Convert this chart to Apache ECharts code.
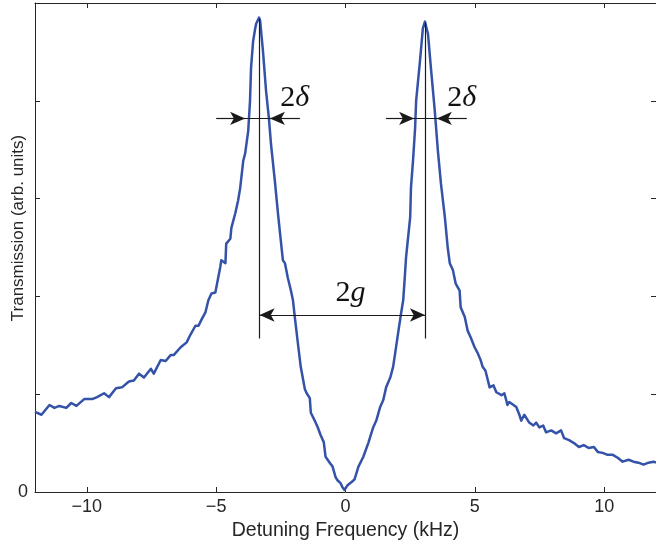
<!DOCTYPE html>
<html>
<head>
<meta charset="utf-8">
<script src="https://cdn.jsdelivr.net/npm/echarts@6/dist/echarts.min.js"></script>
<style>
html,body{margin:0;padding:0;background:#fff;}
#chart{width:656px;height:548px;}
</style>
</head>
<body>
<div id="chart"></div>
<script>
// Detuning frequency (kHz) and transmission (arb. units)
var freqKHz = [
 -12.00,-11.75,-11.44,-11.25,-11.06,-10.79,-10.60,-10.40,-10.10,-9.79,-9.60,-9.33,-9.14,-8.87,-8.64,-8.37,-8.18,-7.98,-7.79,-7.52,-7.41,-7.14,-6.95,-6.76,-6.64,-6.37,-6.14,-5.99,-5.80,
 -5.68,-5.57,-5.41,-5.30,-5.18,-5.03,-4.84,-4.80,-4.64,-4.61,-4.45,-4.41,-4.26,-4.15,-4.07,-3.95,-3.88,-3.76,-3.69,-3.65,-3.57,-3.49,-3.45,-3.34,
 -3.30,-3.19,-3.07,-2.96,-2.88,-2.73,-2.61,-2.50,-2.42,-2.34,-2.23,-2.11,-2.03,-1.96,-1.84,-1.73,-1.57,-1.50,-1.38,-1.34,-1.19,-1.07,-0.96,-0.84,-0.77,-0.61,-0.50,-0.38,-0.31,-0.19,-0.12,-0.04,
 0.00,0.08,0.15,0.27,0.35,0.50,0.69,0.88,1.07,1.19,1.34,1.46,1.57,1.73,1.84,1.92,2.03,2.15,2.23,2.30,2.34,2.50,2.53,2.61,2.69,2.73,2.88,2.99,3.07,
 3.19,3.30,3.45,3.57,3.69,3.84,3.95,4.03,4.15,4.26,4.41,4.45,4.61,4.72,4.84,4.99,5.11,5.22,5.30,5.41,5.57,5.72,5.83,6.03,6.14,6.26,6.33,6.60,6.72,6.79,6.91,
 7.10,7.26,7.37,7.49,7.64,7.75,7.95,8.14,8.33,8.45,8.64,8.83,9.02,9.21,9.40,9.60,9.75,9.94,10.13,10.33,10.52,10.71,10.94,11.13,11.32,11.52,11.71,11.90,12.00
];
var transmission = [
 0.82,0.79,0.89,0.86,0.88,0.86,0.91,0.88,0.95,0.95,0.97,1.01,0.97,1.06,1.07,1.13,1.14,1.21,1.17,1.26,1.21,1.35,1.34,1.40,1.40,1.48,1.53,1.61,1.70,
 1.70,1.76,1.84,1.96,2.03,2.04,2.30,2.37,2.34,2.54,2.59,2.70,2.85,2.98,3.11,3.39,3.46,3.69,4.00,4.34,4.61,4.74,4.79,4.85,
 4.82,4.51,4.10,3.82,3.56,3.18,2.85,2.57,2.37,2.34,2.19,2.06,1.96,1.79,1.52,1.28,1.05,1.01,0.96,0.81,0.73,0.66,0.58,0.51,0.36,0.30,0.26,0.15,0.12,0.09,0.05,0.02,
 0.04,0.07,0.05,0.11,0.13,0.26,0.36,0.50,0.66,0.73,0.87,0.94,1.07,1.17,1.28,1.42,1.62,1.83,1.96,2.23,2.40,2.81,3.11,3.39,3.72,4.00,4.41,4.74,4.81,
 4.68,4.34,3.90,3.49,3.15,2.81,2.50,2.34,2.27,2.13,2.06,1.89,1.79,1.65,1.58,1.48,1.42,1.35,1.28,1.24,1.07,1.09,1.02,0.99,1.01,0.89,0.92,0.87,0.79,0.73,0.79,
 0.71,0.68,0.71,0.66,0.68,0.61,0.63,0.60,0.63,0.55,0.53,0.50,0.46,0.48,0.45,0.46,0.41,0.40,0.38,0.38,0.35,0.31,0.33,0.31,0.30,0.28,0.30,0.31,0.30
];
var xTicks = [-10, -5, 0, 5, 10];
var yTicks = [0, 1, 2, 3, 4, 5];
var yLabels = ['0', '', '', '', '', ''];
// Annotation geometry in data units
var peakCenters = [-3.32, 3.07];
var peakLineTops = [4.84, 4.80];
var peakLineBottom = 1.57;
var splittingY = 1.81;
var widthY = 3.82;
var leftWidthMarks = [-4.99, -3.88, -2.92, -1.77];
var rightWidthMarks = [1.57, 2.65, 3.53, 4.68];
var labelTexts = ['2δ', '2δ', '2g'];
var labelX = [-1.96, 4.49, 0.19];
var labelY = [4.03, 4.03, 2.03];

var curve = freqKHz.map(function (f, i) { return [f, transmission[i]]; });

var ink = '#1a1a1a';
function seg(a, b, s1, s2) {
  return [{coord: a, symbol: s1}, {coord: b, symbol: s2}];
}
var marks = [
  seg([peakCenters[0], peakLineBottom], [peakCenters[0], peakLineTops[0]], 'none', 'none'),
  seg([peakCenters[1], peakLineBottom], [peakCenters[1], peakLineTops[1]], 'none', 'none'),
  seg([peakCenters[0], splittingY], [peakCenters[1], splittingY], 'arrow', 'arrow'),
  seg([leftWidthMarks[0], widthY], [leftWidthMarks[3], widthY], 'none', 'none'),
  seg([leftWidthMarks[0], widthY], [leftWidthMarks[1], widthY], 'none', 'arrow'),
  seg([leftWidthMarks[3], widthY], [leftWidthMarks[2], widthY], 'none', 'arrow'),
  seg([rightWidthMarks[0], widthY], [rightWidthMarks[3], widthY], 'none', 'none'),
  seg([rightWidthMarks[0], widthY], [rightWidthMarks[1], widthY], 'none', 'arrow'),
  seg([rightWidthMarks[3], widthY], [rightWidthMarks[2], widthY], 'none', 'arrow')
];
var labelPoints = labelTexts.map(function (t, i) {
  return {coord: [labelX[i], labelY[i]], value: t};
});

function fmtX(v) { return v < 0 ? '\u2212' + Math.abs(v) : String(v); }
var axisFont = 'Liberation Sans, Arial, Helvetica, sans-serif';
var axisColor = '#262626';
var lineStyleAxis = {color: axisColor, width: 1};

var chart = echarts.init(document.getElementById('chart'), null, {renderer: 'canvas'});
chart.setOption({
  animation: false,
  backgroundColor: '#ffffff',
  grid: {left: 35, right: -2, top: 3, bottom: 56, containLabel: false},
  xAxis: [{
    type: 'value', min: -12, max: 12, position: 'bottom',
    splitLine: {show: false},
    axisLine: {show: true, onZero: false, lineStyle: lineStyleAxis},
    axisTick: {show: true, inside: true, length: 5, lineStyle: lineStyleAxis, customValues: xTicks},
    axisLabel: {show: true, customValues: xTicks, formatter: fmtX, color: axisColor, fontSize: 18, fontFamily: axisFont, margin: 6},
    name: 'Detuning Frequency (kHz)', nameLocation: 'middle', nameGap: 25,
    nameTextStyle: {color: axisColor, fontSize: 19.5, fontFamily: axisFont}
  }, {
    type: 'value', min: -12, max: 12, position: 'top',
    splitLine: {show: false},
    axisLine: {show: true, onZero: false, lineStyle: lineStyleAxis},
    axisTick: {show: true, inside: true, length: 5, lineStyle: lineStyleAxis, customValues: xTicks},
    axisLabel: {show: false}
  }],
  yAxis: [{
    type: 'value', min: 0, max: 5, interval: 1, position: 'left',
    splitLine: {show: false},
    axisLine: {show: true, onZero: false, lineStyle: lineStyleAxis},
    axisTick: {show: true, inside: true, length: 5, lineStyle: lineStyleAxis},
    axisLabel: {show: true, color: axisColor, fontSize: 18, fontFamily: axisFont, margin: 7,
      formatter: function (v) { var k = yTicks.indexOf(v); return k >= 0 ? yLabels[k] : ''; }}
  }, {
    type: 'value', min: 0, max: 5, interval: 1, position: 'right',
    splitLine: {show: false},
    axisLine: {show: true, onZero: false, lineStyle: lineStyleAxis},
    axisTick: {show: true, inside: true, length: 5, lineStyle: lineStyleAxis},
    axisLabel: {show: false}
  }],
  graphic: [{
    type: 'text', x: 18, y: 228, rotation: Math.PI / 2,
    style: {text: 'Transmission (arb. units)', fill: axisColor, fontSize: 17, fontFamily: axisFont,
      align: 'center', verticalAlign: 'middle'}
  }],
  series: [{
    name: 'Transmission', type: 'line', data: curve,
    xAxisIndex: 0, yAxisIndex: 0,
    showSymbol: false, symbol: 'none', clip: true,
    lineStyle: {color: '#3352a8', width: 2.5, join: 'round'},
    markLine: {
      silent: true, animation: false, symbolSize: [10, 15],
      label: {show: false},
      lineStyle: {color: ink, width: 1.2, type: 'solid'},
      emphasis: {disabled: true},
      data: marks
    },
    markPoint: {
      silent: true, symbol: 'circle', symbolSize: 0, animation: false,
      label: {
        show: true, position: 'inside', color: '#111',
        formatter: function (p) { return '{n|2}{i|' + p.value.slice(1) + '}'; },
        rich: {
          n: {fontFamily: 'Liberation Serif, DejaVu Serif, serif', fontSize: 30, fontStyle: 'normal', color: '#111'},
          i: {fontFamily: 'Liberation Serif, DejaVu Serif, serif', fontSize: 30, fontStyle: 'italic', color: '#111'}
        }
      },
      data: labelPoints
    }
  }]
});
</script>
</body>
</html>
